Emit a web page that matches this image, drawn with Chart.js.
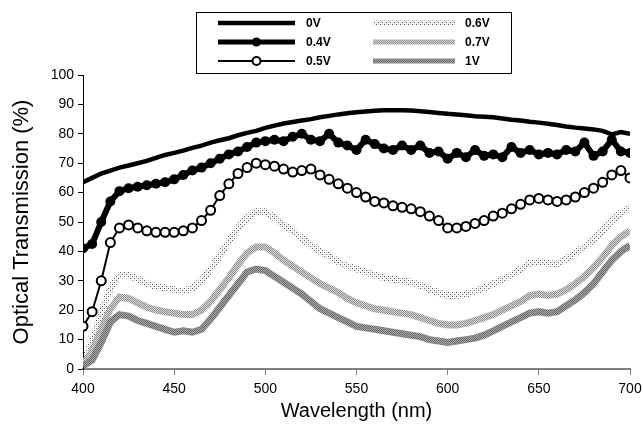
<!DOCTYPE html>
<html>
<head>
<meta charset="utf-8">
<script src="https://cdn.jsdelivr.net/npm/chart.js@4.4.1/dist/chart.umd.min.js"></script>
<style>
  html, body { margin: 0; padding: 0; background: #fff; }
  #wrap { width: 643px; height: 425px; position: relative; }
</style>
</head>
<body>
<div id="wrap"><canvas id="myChart" width="643" height="425"></canvas></div>
<script>

// wavelengths (nm)
var wavelengths = [400, 405, 410, 415, 420, 425, 430, 435, 440, 445, 450, 455, 460, 465, 470, 475, 480, 485, 490, 495,
    500, 505, 510, 515, 520, 525, 530, 535, 540, 545, 550, 555, 560, 565, 570, 575, 580, 585, 590, 595,
    600, 605, 610, 615, 620, 625, 630, 635, 640, 645, 650, 655, 660, 665, 670, 675, 680, 685, 690, 695, 700];

// transmission (%) for each applied voltage
var t0V = [63.5, 65, 66.5, 67.5, 68.5, 69.2, 70, 70.8, 71.8, 72.8, 73.5, 74.3, 75.2, 76, 77, 77.8, 78.5, 79.5, 80.3, 81,
    82, 82.8, 83.5, 84, 84.5, 85, 85.6, 86.1, 86.6, 87, 87.3, 87.6, 87.8, 88, 88, 88, 87.9, 87.7, 87.4, 87.1,
    86.8, 86.6, 86.3, 86, 85.8, 85.6, 85.2, 84.8, 84.5, 84.1, 83.8, 83.4, 83, 82.5, 82.1, 81.8, 81.5, 81, 79.8, 80.6, 80];

var t04V = [41, 42.5, 50, 57, 60.5, 61.5, 62, 62.5, 63, 63.5, 64.5, 66, 67.5, 68.5, 70, 71.5, 73, 74, 75.5, 77,
    77.5, 78, 77.5, 79, 80, 78, 77.5, 80, 77, 76, 74.5, 78, 76.5, 75, 74.5, 76, 74.5, 76, 73.5, 74,
    71.5, 73.5, 72, 74.5, 72.5, 73, 72, 75.5, 73.5, 74.5, 73, 73.5, 73, 74.5, 74, 77, 72.5, 74, 78, 74, 73.5];

var t05V = [14.5, 19.5, 30, 43, 48, 49, 48, 47, 46.5, 46.5, 46.5, 47, 48, 50.5, 54, 59, 63, 66.5, 68.5, 70,
    69.5, 69, 68, 67, 67.5, 68, 66, 64.5, 63, 61.5, 60, 58.5, 57, 56.5, 55.5, 55, 54.5, 53.5, 52, 50.5,
    48, 48, 48.5, 49.5, 50.5, 52, 53, 54.5, 56, 57.5, 58, 57.5, 57, 57.5, 58.5, 60, 61.5, 63.5, 66, 67.5, 65];

var t06V = [2.5, 9, 19, 27.5, 32, 32, 30.5, 29, 28, 27.5, 27, 26.5, 27.5, 30, 34, 38.5, 43.5, 48, 51.5, 53.5,
    53.5, 51.5, 49, 47, 44.5, 42, 40, 38.5, 36.5, 35, 34, 33, 32, 31, 30.5, 30, 29.5, 28.5, 27, 26,
    25, 25, 25.5, 26.5, 27.5, 29, 30.5, 32, 34, 36, 36.5, 36, 35.5, 37.5, 39.5, 41.5, 44, 47, 50.5, 53, 55];

var t07V = [1.5, 6, 13.5, 20.5, 24.5, 24, 22.5, 21, 20, 19.5, 19, 18.5, 18.5, 20, 23, 27, 31, 35.5, 39.5, 41.5,
    41.5, 39.5, 37, 35, 33, 31, 29, 27.5, 26, 24, 22.5, 21.5, 20.5, 20, 19.5, 19, 18.5, 17.5, 16.5, 15.5,
    15, 15, 15.5, 16.5, 17.5, 18.5, 20, 21.5, 23, 25, 25.5, 25, 25.5, 27, 29, 31.5, 34.5, 38, 42, 45, 47];

var t1V = [1, 3, 9, 16, 18.5, 18, 16.5, 15.5, 14.5, 13.5, 12.5, 13, 12.5, 13.5, 17, 21, 25, 29, 33, 34,
    33.5, 31.5, 29.5, 27.5, 25.5, 23, 20.5, 19, 17.5, 16, 14.5, 14, 13.5, 13, 12.5, 12, 11.5, 11, 10, 9.5,
    9, 9.5, 10, 10.5, 11.5, 13, 14.5, 16, 17.5, 19, 19.5, 19, 19.5, 21.5, 23.5, 26, 29, 33, 37, 40, 42];

var xTicks = [400, 450, 500, 550, 600, 650, 700];
var yTicks = [0, 10, 20, 30, 40, 50, 60, 70, 80, 90, 100];

// little dot patterns like the excel fills
function makePattern(size, dots) {
    var c = document.createElement('canvas');
    c.width = size;
    c.height = size;
    var g = c.getContext('2d');
    dots.forEach(function (d) {
        g.fillStyle = d[2];
        g.fillRect(d[0], d[1], 1, 1);
    });
    return g.createPattern(c, 'repeat');
}

var pat06 = makePattern(4, [[0, 0, '#555'], [2, 2, '#555'], [2, 0, '#ccc'], [0, 2, '#ccc']]);
var pat07 = makePattern(2, [[0, 0, '#888'], [1, 1, '#888'], [1, 0, '#ddd'], [0, 1, '#ddd']]);
var pat1 = makePattern(2, [[0, 0, '#666'], [1, 1, '#666'], [1, 0, '#aaa'], [0, 1, '#aaa']]);

function points(vals) {
    return wavelengths.map(function (w, i) {
        return { x: w, y: vals[i] };
    });
}

var datasets = [
    { label: '1V', data: points(t1V), borderColor: pat1, borderWidth: 7, pointRadius: 0 },
    { label: '0.7V', data: points(t07V), borderColor: pat07, borderWidth: 7, pointRadius: 0 },
    { label: '0.6V', data: points(t06V), borderColor: pat06, borderWidth: 7, pointRadius: 0 },
    { label: '0.5V', data: points(t05V), borderColor: '#000', borderWidth: 2, pointRadius: 4.5,
        pointBackgroundColor: '#fff', pointBorderColor: '#000', pointBorderWidth: 2 },
    { label: '0.4V', data: points(t04V), borderColor: '#000', borderWidth: 6, pointRadius: 5,
        pointBackgroundColor: '#000', pointBorderColor: '#000', pointBorderWidth: 0 },
    { label: '0V', data: points(t0V), borderColor: '#000', borderWidth: 4.5, pointRadius: 0 }
];

// legend box drawn by hand, two columns
var legendOrder = [['0V', '0.4V', '0.5V'], ['0.6V', '0.7V', '1V']];

var boxLegend = {
    id: 'boxLegend',
    afterDraw: function (chart) {
        var ctx = chart.ctx;
        ctx.save();
        ctx.fillStyle = '#fff';
        ctx.fillRect(196, 12, 315, 61);
        ctx.strokeStyle = '#000';
        ctx.lineWidth = 1;
        ctx.strokeRect(196.5, 12.5, 315, 61);

        var cols = [{ x0: 218, x1: 295, tx: 306 }, { x0: 373, x1: 455, tx: 465 }];
        var rows = [23, 42, 61];
        ctx.font = 'bold 12px "Liberation Sans", Arial, sans-serif';
        ctx.textBaseline = 'middle';

        legendOrder.forEach(function (col, ci) {
            col.forEach(function (label, ri) {
                var ds = datasets.find(function (d) { return d.label === label; });
                var y = rows[ri];
                var c = cols[ci];
                ctx.strokeStyle = ds.borderColor;
                ctx.lineWidth = Math.min(ds.borderWidth, 5);
                ctx.beginPath();
                ctx.moveTo(c.x0, y);
                ctx.lineTo(c.x1, y);
                ctx.stroke();
                if (ds.pointRadius > 0) {
                    ctx.beginPath();
                    ctx.arc((c.x0 + c.x1) / 2, y, ds.pointRadius - 0.5, 0, Math.PI * 2);
                    ctx.fillStyle = ds.pointBackgroundColor;
                    ctx.fill();
                    if (ds.pointBorderWidth > 0) {
                        ctx.lineWidth = ds.pointBorderWidth;
                        ctx.strokeStyle = ds.pointBorderColor;
                        ctx.stroke();
                    }
                }
                ctx.fillStyle = '#000';
                ctx.fillText(label, c.tx, y + 1);
            });
        });
        ctx.restore();
    }
};

var ctx = document.getElementById('myChart').getContext('2d');
var transChart = new Chart(ctx, {
    type: 'line',
    data: { datasets: datasets },
    plugins: [boxLegend],
    options: {
        responsive: false,
        animation: false,
        layout: { padding: { left: 0, top: 75, right: 0, bottom: 0 } },
        elements: { line: { tension: 0, fill: false } },
        plugins: {
            legend: { display: false },
            tooltip: { enabled: false }
        },
        scales: {
            x: {
                type: 'linear',
                min: 400,
                max: 700,
                afterFit: function (scale) {
                    scale.height = 56;
                    scale.paddingLeft = 0;
                    scale.paddingRight = 13;
                },
                afterBuildTicks: function (scale) {
                    scale.ticks = xTicks.map(function (v) { return { value: v }; });
                },
                border: { color: '#808080', width: 2 },
                grid: { drawOnChartArea: false, drawTicks: true, tickLength: 6, color: '#808080', lineWidth: 1 },
                ticks: {
                    color: '#000',
                    padding: 6,
                    maxRotation: 0,
                    font: { family: '"Liberation Sans", Arial, sans-serif', size: 14 }
                },
                title: {
                    display: true,
                    text: 'Wavelength (nm)',
                    color: '#000',
                    padding: { top: 0, bottom: 2 },
                    font: { family: '"Liberation Sans", Arial, sans-serif', size: 20 }
                }
            },
            y: {
                min: 0,
                max: 100,
                afterFit: function (scale) { scale.width = 83; },
                afterBuildTicks: function (scale) {
                    scale.ticks = yTicks.map(function (v) { return { value: v }; });
                },
                border: { color: '#000', width: 1 },
                grid: { drawOnChartArea: false, drawTicks: true, tickLength: 5, color: '#000' },
                ticks: {
                    color: '#000',
                    padding: 4,
                    font: { family: '"Liberation Sans", Arial, sans-serif', size: 14 }
                },
                title: {
                    display: true,
                    text: 'Optical Transmission (%)',
                    color: '#000',
                    padding: { top: 9, bottom: 0 },
                    font: { family: '"Liberation Sans", Arial, sans-serif', size: 22, lineHeight: 1.2 }
                }
            }
        }
    }
});
</script>
</body>
</html>
